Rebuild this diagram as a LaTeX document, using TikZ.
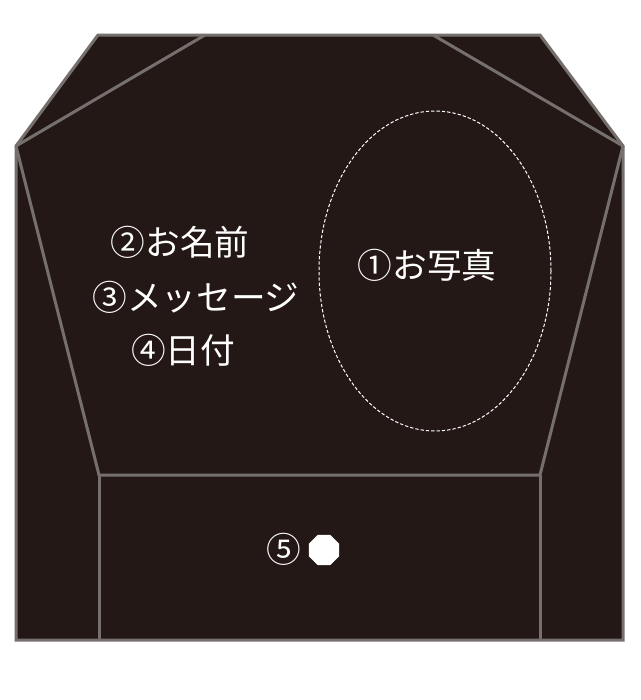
\documentclass[tikz,border=0pt]{standalone}
\usepackage{fontspec}
\setmainfont{Noto Sans CJK JP}
\usetikzlibrary{shapes.geometric}
\definecolor{bodyfill}{HTML}{231815}
\definecolor{edgegray}{HTML}{75706E}
\tikzset{
  edge/.style={draw=edgegray, line width=2.25pt, line join=miter},
  label/.style={text=white, font=\fontsize{26}{30}\selectfont, inner sep=0pt, anchor=center},
}
\begin{document}
\begin{tikzpicture}[x=0.75pt,y=-0.75pt]
\useasboundingbox[fill=white] (0,0) rectangle (640,700);
% outer body
\path[edge, fill=bodyfill] (98,35) -- (540,35) -- (623,146) -- (623,640) -- (16,640) -- (16,146) -- cycle;
% inner lines
\draw[edge] (205,35) -- (16,146);
\draw[edge] (433,35) -- (623,146);
\draw[edge] (16,146) -- (99,475) -- (540,475) -- (623,146);
\draw[edge] (99,475) -- (99,640);
\draw[edge] (540,475) -- (540,640);
% photo frame
\draw[white, line width=0.75pt, dash pattern=on 2.5pt off 1.5pt] (435,271) ellipse [x radius=116, y radius=160];
% labels
\node[label] (photo) at (427,265) {①お写真};
\node[label] (name) at (180,242) {②お名前};
\node[label] (msg) at (196,297) {③メッセージ};
\node[label] (date) at (183,350) {④日付};
\node[label] (num5) at (284,549) {⑤};
\node[regular polygon, regular polygon sides=8, fill=white, minimum size=24.5pt, inner sep=0pt] (dot) at (324,550) {};
\end{tikzpicture}
\end{document}
